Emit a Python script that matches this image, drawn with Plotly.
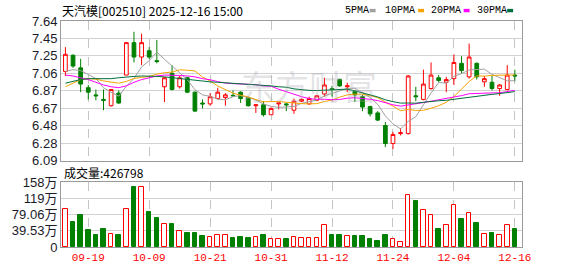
import plotly.graph_objects as go

# ---------------- data ----------------
dates = ["09-16", "09-17", "09-18", "09-19", "09-22", "09-23", "09-24", "09-25", "09-26", "09-29",
         "09-30", "10-09", "10-10", "10-13", "10-14", "10-15", "10-16", "10-17", "10-20", "10-21",
         "10-22", "10-23", "10-24", "10-27", "10-28", "10-29", "10-30", "10-31", "11-03", "11-04",
         "11-05", "11-06", "11-07", "11-10", "11-11", "11-12", "11-13", "11-14", "11-17", "11-18",
         "11-19", "11-20", "11-21", "11-24", "11-25", "11-26", "11-27", "11-28", "12-01", "12-02",
         "12-03", "12-04", "12-05", "12-08", "12-09", "12-10", "12-11", "12-12", "12-15", "12-16"]

opens = [7.08, 7.26, 7.12, 6.90, 6.82, 6.77, 6.70, 6.84, 7.04, 7.40,
         7.24, 7.31, 7.20, 6.91, 7.06, 6.91, 7.01, 6.85, 6.73, 6.72,
         6.78, 6.79, 6.815, 6.85, 6.79, 6.70, 6.71, 6.60, 6.72, 6.72,
         6.65, 6.75, 6.72, 6.76, 6.83, 6.89, 6.99, 6.91, 6.86, 6.80,
         6.69, 6.62, 6.48, 6.28, 6.39, 6.39, 6.81, 6.77, 6.89, 7.01,
         6.96, 7.00, 7.17, 7.02, 7.17, 6.965, 6.96, 6.89, 6.88, 7.04]
highs = [7.35, 7.27, 7.22, 6.93, 6.88, 6.88, 6.88, 6.87, 7.40, 7.52,
         7.50, 7.35, 7.43, 7.02, 7.15, 7.03, 7.02, 6.86, 6.77, 6.84,
         6.90, 6.84, 6.87, 6.86, 6.80, 6.71, 6.75, 6.68, 6.73, 6.73,
         6.78, 6.78, 6.80, 6.82, 7.01, 6.92, 7.00, 6.955, 6.87, 6.82,
         6.70, 6.64, 6.52, 6.41, 6.45, 7.04, 6.91, 7.10, 7.18, 7.04,
         7.02, 7.27, 7.25, 7.39, 7.18, 7.03, 7.03, 6.94, 7.15, 7.10]
lows = [7.03, 7.12, 6.85, 6.77, 6.76, 6.65, 6.69, 6.72, 7.04, 7.18,
        7.15, 7.22, 7.17, 6.74, 6.87, 6.89, 6.84, 6.63, 6.67, 6.70,
        6.78, 6.70, 6.80, 6.73, 6.69, 6.62, 6.58, 6.60, 6.66, 6.64,
        6.61, 6.74, 6.71, 6.75, 6.80, 6.80, 6.91, 6.85, 6.74, 6.64,
        6.58, 6.53, 6.24, 6.22, 6.37, 6.38, 6.75, 6.76, 6.88, 6.96,
        6.85, 6.93, 7.06, 7.00, 6.99, 6.91, 6.87, 6.81, 6.87, 6.97]
closes = [7.27, 7.14, 6.94, 6.85, 6.81, 6.76, 6.88, 6.73, 7.40, 7.24,
          7.40, 7.24, 7.19, 7.01, 6.88, 7.01, 6.85, 6.64, 6.72, 6.80,
          6.85, 6.82, 6.81, 6.78, 6.70, 6.71, 6.60, 6.67, 6.73, 6.71,
          6.75, 6.77, 6.78, 6.81, 6.93, 6.88, 6.92, 6.92, 6.82, 6.685,
          6.61, 6.54, 6.28, 6.38, 6.40, 7.03, 6.80, 6.94, 7.04, 6.98,
          6.99, 7.18, 7.09, 7.24, 7.02, 7.00, 6.89, 6.93, 7.04, 7.03]
# volume in 万 (10k lots)
volumes = [92, 61, 79, 42, 30, 44, 32.5, 30, 92, 146,
           146, 86, 70, 56, 57, 39, 35, 35, 27, 25,
           29.5, 29.5, 23, 25, 23, 25, 29.5, 20, 20, 20.5,
           25, 22.5, 22.5, 22.5, 52.7, 30, 29.5, 26, 26, 26,
           18.6, 15.5, 30, 18.6, 11.6, 125.6, 111.6, 90.7, 76.7, 42.6,
           53.5, 102.3, 67.4, 83, 58, 32.6, 35, 30, 53.5, 42.6798]

ma5 = [7.08, 7.10, 7.09, 7.05, 7.002, 6.90, 6.848, 6.806, 6.916, 7.002,
       7.13, 7.20, 7.294, 7.216, 7.144, 7.066, 6.988, 6.878, 6.82, 6.804,
       6.772, 6.766, 6.80, 6.812, 6.792, 6.764, 6.72, 6.692, 6.682, 6.684,
       6.692, 6.726, 6.748, 6.764, 6.808, 6.834, 6.864, 6.892, 6.894, 6.845,
       6.791, 6.715, 6.587, 6.499, 6.442, 6.526, 6.578, 6.71, 6.842, 6.958,
       6.95, 7.026, 7.056, 7.096, 7.104, 7.106, 7.048, 7.016, 6.976, 6.978]
ma10 = [6.91, 6.95, 6.99, 7.00, 6.995, 6.975, 6.96, 6.95, 6.97, 7.002,
        7.015, 7.024, 7.05, 7.066, 7.073, 7.098, 7.094, 7.086, 7.018, 6.974,
        6.919, 6.877, 6.839, 6.816, 6.798, 6.768, 6.743, 6.746, 6.747, 6.738,
        6.728, 6.723, 6.72, 6.723, 6.746, 6.763, 6.795, 6.82, 6.829, 6.827,
        6.813, 6.79, 6.74, 6.697, 6.644, 6.659, 6.647, 6.649, 6.671, 6.70,
        6.738, 6.802, 6.883, 6.969, 7.031, 7.028, 7.037, 7.036, 7.036, 7.041]
ma20 = [7.04, 7.03, 7.01, 6.99, 6.96, 6.93, 6.91, 6.90, 6.92, 6.96,
        6.99, 7.01, 7.03, 7.04, 7.04, 7.035, 7.03, 7.02, 7.00, 6.988,
        6.967, 6.951, 6.945, 6.941, 6.936, 6.933, 6.919, 6.916, 6.883, 6.856,
        6.824, 6.80, 6.78, 6.77, 6.772, 6.766, 6.769, 6.783, 6.788, 6.783,
        6.771, 6.757, 6.73, 6.71, 6.695, 6.711, 6.721, 6.735, 6.75, 6.764,
        6.776, 6.796, 6.812, 6.833, 6.838, 6.844, 6.842, 6.843, 6.854, 6.871]
ma30 = [6.95, 6.97, 6.99, 7.00, 7.00, 7.00, 7.00, 7.01, 7.02, 7.025,
        7.03, 7.03, 7.025, 7.02, 7.01, 7.00, 6.99, 6.98, 6.97, 6.965,
        6.96, 6.955, 6.95, 6.945, 6.94, 6.93, 6.925, 6.92, 6.91, 6.905,
        6.887, 6.875, 6.870, 6.868, 6.872, 6.876, 6.877, 6.884, 6.865, 6.846,
        6.82, 6.797, 6.766, 6.745, 6.729, 6.73, 6.728, 6.738, 6.749, 6.755,
        6.76, 6.772, 6.781, 6.796, 6.807, 6.817, 6.826, 6.835, 6.845, 6.856]

price_ticks = [6.09, 6.28375, 6.4775, 6.67125, 6.865, 7.05875, 7.2525, 7.44625, 7.64]
price_tick_text = ["6.09", "6.28", "6.48", "6.67", "6.87", "7.06", "7.25", "7.45", "7.64"]
vol_ticks = [0, 39.53, 79.06, 118.59, 158.12]
vol_tick_text = ["0", "39.53万", "79.06万", "119万", "158万"]
date_ticks = ["09-19", "10-09", "10-21", "10-31", "11-12", "11-24", "12-04", "12-16"]

stock_title = "天汽模[002510] 2025-12-16 15:00"
ma_names = ["5PMA", "10PMA", "20PMA", "30PMA"]

# ---------------- style ----------------
RED = "#ff0000"
GREEN = "#008000"
MA_COLORS = ["#a0a0a0", "#f5a300", "#ff00ff", "#00703c"]
GRID = "#d2d2d2"
VGRID = "#c4c4c4"
FRAME = "#9a9a9a"
LABEL = "#1a1a2a"

W, H = 578, 276
ML, MR, MT, MB = 56, 56, 21, 22
PW, PH = W - ML - MR, H - MT - MB


def px_x(p):
    return (p - ML) / PW


def px_y(p):
    return (H - MB - p) / PH


fig = go.Figure()

fig.add_trace(go.Candlestick(
    x=dates, open=opens, high=highs, low=lows, close=closes,
    increasing=dict(line=dict(color=RED, width=1), fillcolor="white"),
    decreasing=dict(line=dict(color=GREEN, width=1), fillcolor=GREEN),
    whiskerwidth=0, xaxis="x", yaxis="y", hoverinfo="skip",
))

for vals, col in zip([ma5, ma10, ma20, ma30], MA_COLORS):
    fig.add_trace(go.Scatter(x=dates, y=vals, mode="lines",
                             line=dict(color=col, width=1),
                             xaxis="x", yaxis="y", hoverinfo="skip"))

up = [c >= o for o, c in zip(opens, closes)]
fig.add_trace(go.Bar(
    x=dates, y=volumes, width=0.6,
    marker=dict(color=["white" if u else GREEN for u in up],
                line=dict(color=[RED if u else GREEN for u in up], width=1)),
    xaxis="x2", yaxis="y2", hoverinfo="skip",
))

xrange = [-0.58, 59.94]
axis_common = dict(showline=True, mirror=True, linecolor=FRAME, linewidth=1,
                   zeroline=False, ticks="")

fig.update_layout(
    width=W, height=H,
    margin=dict(l=ML, r=MR, t=MT, b=MB),
    paper_bgcolor="white", plot_bgcolor="white",
    showlegend=False,
    bargap=0,
    xaxis=dict(domain=[0, 1], anchor="y", type="category", range=xrange,
               rangeslider=dict(visible=False), showticklabels=False,
               tickvals=date_ticks, showgrid=True, gridcolor=VGRID,
               griddash="dash", gridwidth=1, **axis_common),
    yaxis=dict(domain=[px_y(165), 1], range=[price_ticks[0], price_ticks[-1]],
               tickvals=price_ticks, ticktext=price_tick_text,
               showgrid=True, gridcolor=GRID, gridwidth=1,
               tickfont=dict(family="Liberation Sans, Arial", size=13, color=LABEL),
               **axis_common),
    xaxis2=dict(domain=[0, 1], anchor="y2", type="category", range=xrange,
                matches="x", tickvals=date_ticks, showgrid=True,
                gridcolor=VGRID, griddash="dash", gridwidth=1,
                tickfont=dict(family="Liberation Mono, DejaVu Sans Mono", size=11, color=RED),
                **axis_common),
    yaxis2=dict(domain=[0, px_y(187)], range=[vol_ticks[0], vol_ticks[-1]],
                tickvals=vol_ticks, ticktext=vol_tick_text,
                showgrid=True, gridcolor=GRID, gridwidth=1,
                tickfont=dict(family="Liberation Sans, Noto Sans CJK SC", size=13, color=LABEL),
                **axis_common),
)

annotations = []
# title
annotations.append(dict(text=stock_title, xref="paper", yref="paper",
                        x=px_x(55), y=px_y(10), xanchor="left", yanchor="middle",
                        showarrow=False,
                        font=dict(family="Noto Sans CJK SC", size=12, color="#000")))
# MA legend
legend_left = [341, 381, 428, 474]
square_left = [368, 417, 463, 507]
shapes = []
for name, lx, sx, col in zip(ma_names, legend_left, square_left, MA_COLORS):
    annotations.append(dict(text=name, xref="paper", yref="paper",
                            x=px_x(lx), y=px_y(10), xanchor="left", yanchor="middle",
                            showarrow=False,
                            font=dict(family="Liberation Mono, DejaVu Sans Mono", size=10, color="#000")))
    shapes.append(dict(type="rect", xref="paper", yref="paper",
                       x0=px_x(sx), x1=px_x(sx + 6), y0=px_y(12), y1=px_y(8.5),
                       fillcolor=col, line=dict(width=0)))
# volume header
annotations.append(dict(text="成交量:" + str(int(round(volumes[-1] * 10000))),
                        xref="paper", yref="paper", x=px_x(57), y=px_y(177),
                        xanchor="left", yanchor="middle", showarrow=False,
                        font=dict(family="Noto Sans CJK SC", size=12, color="#000")))
# watermark
annotations.append(dict(text="东方财富", xref="paper", yref="paper",
                        x=px_x(307), y=px_y(88), xanchor="center", yanchor="middle",
                        showarrow=False,
                        font=dict(family="Noto Sans CJK SC", size=34, color="rgba(160,160,170,0.3)")))

fig.update_layout(annotations=annotations, shapes=shapes)

fig.write_html("out.html")
